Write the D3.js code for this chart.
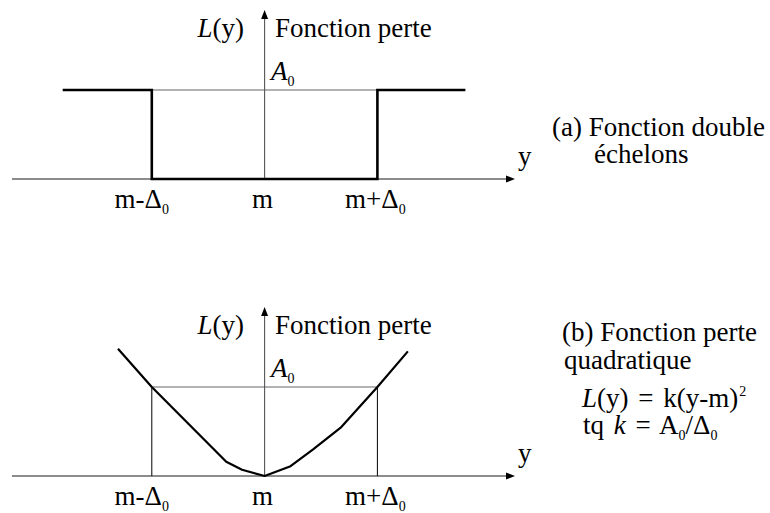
<!DOCTYPE html>
<html>
<head>
<meta charset="utf-8">
<script src="https://cdn.jsdelivr.net/npm/d3@7/dist/d3.min.js"></script>
</head>
<body style="margin:0">
<svg id="chart" width="770" height="513"></svg>
<script>
// Abscissa expressed in units of Δ0 around the target m
const tickPos = [-1, 0, 1];
const tickMain = ["m-Δ", "m", "m+Δ"];
const tickSub = ["0", "", "0"];

// (a) double-step loss: abscissa / loss (in units of A0)
const stepY = [-1.79, -1, -1, 1, 1, 1.78];
const stepL = [1, 1, 0, 0, 1, 1];

// (b) quadratic loss, sampled points
const quadY = [-1.3, -1, -0.34, -0.2, 0, 0.23, 0.43, 0.68, 1, 1.27];
const quadL = [1.43, 1, 0.16, 0.07, 0, 0.11, 0.3, 0.55, 1, 1.4];

// axis extents
const axisY = [-2.24, 2.22];
const axisLmax = 1.9;

const FONT = '"Liberation Serif"';
const FS = 27, SUB = 14;
const svg = d3.select("#chart");
const x = d3.scaleLinear().domain([-1, 1]).range([151.8, 377.4]);

function txt(g, px, py) {
  return g.append("text").attr("x", px).attr("y", py)
    .style("font-family", FONT).attr("font-size", FS);
}
function sub(t, s) {
  t.append("tspan").attr("font-size", SUB).attr("dy", 6).text(s);
}

function panel(offset, drawCurve, captions) {
  const yL = d3.scaleLinear().domain([0, 1]).range([179 + offset, 90 + offset]);
  const g = svg.append("g");
  const line = d3.line().x(d => x(d[0])).y(d => yL(d[1]));

  // A0 reference level
  g.append("line")
    .attr("x1", x(-1)).attr("x2", x(1))
    .attr("y1", yL(1)).attr("y2", yL(1))
    .attr("stroke", "#666").attr("stroke-width", 1.2);

  // horizontal axis with arrow
  g.append("line")
    .attr("x1", x(axisY[0])).attr("x2", x(axisY[1]) - 6)
    .attr("y1", yL(0)).attr("y2", yL(0))
    .attr("stroke", "#666").attr("stroke-width", 1.3);
  const ax = x(axisY[1]), ay = yL(0);
  g.append("path")
    .attr("d", `M${ax},${ay} L${ax - 9},${ay - 3.5} L${ax - 9},${ay + 3.5} Z`)
    .attr("fill", "#000");

  // vertical axis with arrow
  const vx = x(0), vy = yL(axisLmax);
  g.append("line")
    .attr("x1", vx).attr("x2", vx)
    .attr("y1", yL(0)).attr("y2", vy + 6)
    .attr("stroke", "#555").attr("stroke-width", 1.1);
  g.append("path")
    .attr("d", `M${vx},${vy} L${vx - 3.5},${vy + 9} L${vx + 3.5},${vy + 9} Z`)
    .attr("fill", "#000");

  drawCurve(g, line, yL);

  // axis labels
  const ly = txt(g, 244, yL(0) - 142).attr("text-anchor", "end");
  ly.append("tspan").attr("font-style", "italic").text("L");
  ly.append("tspan").text("(y)");

  txt(g, 275, yL(0) - 142).text("Fonction perte");

  const a0 = txt(g, 271, yL(1) - 10);
  a0.append("tspan").attr("font-style", "italic").text("A");
  sub(a0, "0");

  txt(g, 518, yL(0) - 14).text("y");

  // tick labels
  const shift = [-10, -2, -2];
  tickPos.forEach((p, i) => {
    const t = txt(g, x(p) + shift[i], yL(0) + 29).attr("text-anchor", "middle");
    t.append("tspan").text(tickMain[i]);
    if (tickSub[i]) sub(t, tickSub[i]);
  });

  captions(g, yL);
}

// (a) double step
panel(0, (g, line) => {
  g.append("path")
    .datum(stepY.map((v, i) => [v, stepL[i]]))
    .attr("d", line)
    .attr("fill", "none").attr("stroke", "#000").attr("stroke-width", 2.6)
    .attr("stroke-linejoin", "miter");
}, (g) => {
  txt(g, 552, 136).text("(a) Fonction double");
  txt(g, 594, 163).text("échelons");
});

// (b) quadratic
panel(297, (g, line, yL) => {
  [-1, 1].forEach(p => {
    g.append("line")
      .attr("x1", x(p)).attr("x2", x(p))
      .attr("y1", yL(1)).attr("y2", yL(0))
      .attr("stroke", "#000").attr("stroke-width", 1);
  });
  g.append("path")
    .datum(quadY.map((v, i) => [v, quadL[i]]))
    .attr("d", line)
    .attr("fill", "none").attr("stroke", "#000").attr("stroke-width", 2.2)
    .attr("stroke-linejoin", "round");
}, (g) => {
  txt(g, 562, 341).text("(b) Fonction perte");
  txt(g, 564, 369).text("quadratique");

  const eq = txt(g, 582, 407).attr("word-spacing", 3);
  eq.append("tspan").attr("font-style", "italic").text("L");
  eq.append("tspan").text("(y) = k(y-m)");
  eq.append("tspan").attr("font-size", SUB).attr("dx", 1).attr("dy", -11).text("2");

  const tq = txt(g, 583, 434).attr("word-spacing", 3);
  tq.append("tspan").text("tq ");
  tq.append("tspan").attr("font-style", "italic").text("k");
  tq.append("tspan").text(" = A");
  sub(tq, "0");
  tq.append("tspan").attr("dy", -6).text("/Δ");
  sub(tq, "0");
});
</script>
</body>
</html>
